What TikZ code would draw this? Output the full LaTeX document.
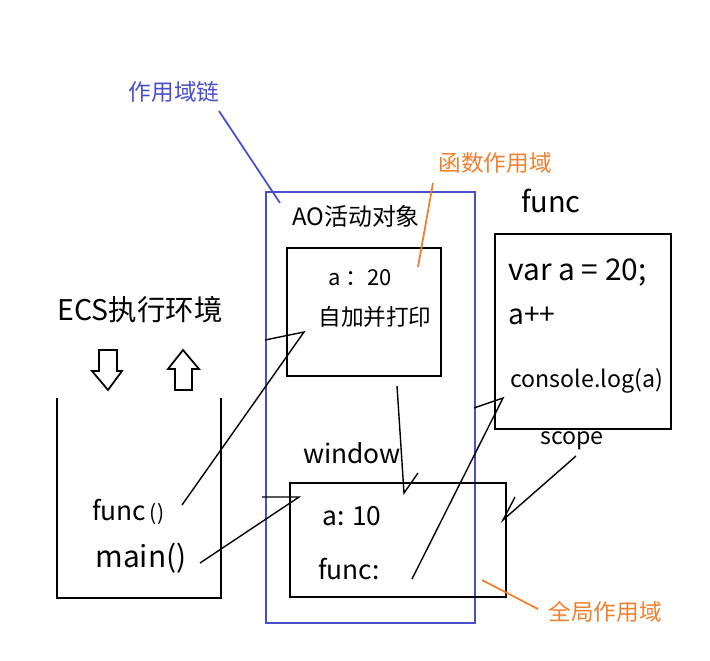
\documentclass[tikz,border=0pt]{standalone}
\usepackage{fontspec}
\setmainfont{Noto Sans CJK SC}
\definecolor{chainblue}{RGB}{72,78,204}
\definecolor{scopeorange}{RGB}{240,128,48}

\begin{document}
\begin{tikzpicture}[x=0.02cm, y=-0.02cm,
        box/.style={draw, line width=1.1pt},
        link/.style={line width=0.8pt},
        txt/.style={inner sep=0pt},
        big/.style={txt, font=\fontsize{15}{18}\selectfont},
        mid/.style={txt, font=\fontsize{12.9}{15}\selectfont},
        small/.style={txt, font=\fontsize{13.2}{15}\selectfont}]
    \useasboundingbox (0,0) rectangle (710,660);

    % boxes
    \draw [draw=chainblue, line width=1.1pt] (266,192) rectangle (475,623);
    \draw [box] (287,248) rectangle (441,376);
    \draw [box] (495,234) rectangle (671,429);
    \draw [box] (290,483) rectangle (506,597);
    \draw [box] (57,398) -- (57,598) -- (221,598) -- (221,398);

    % hollow arrows
    \draw [line width=1pt] (99,350) -- (117,350) -- (117,371) -- (122,371) -- (108,390) -- (92,371) -- (99,371) -- cycle;
    \draw [line width=1pt] (183,350) -- (199,369) -- (192,369) -- (192,390) -- (175,390) -- (175,369) -- (168,369) -- cycle;

    % labels
    \node (ecs) [txt, font=\fontsize{16.2}{19}\selectfont] at (140,310) {ECS执行环境};
    \node (chain) [mid, text=chainblue] at (174,92) {作用域链};
    \node (ao) [txt, font=\fontsize{13.6}{16}\selectfont] at (356,216) {AO活动对象};
    \node (fscope) [mid, text=scopeorange] at (495,163) {函数作用域};
    \node (aval) [txt, font=\fontsize{12.5}{15}\selectfont] at (360,278) {a ：20};
    \node (incr) [mid] at (375,317) {自加并打印};
    \node (fname) [txt, font=\fontsize{16.5}{19}\selectfont] at (551,201) {func};
    \node (vara) [txt, font=\fontsize{17}{20}\selectfont, anchor=west] at (508,272) {var a = 20;};
    \node (aplus) [txt, font=\fontsize{16}{19}\selectfont, anchor=west] at (508,316) {a++};
    \node (clog) [small, anchor=west] at (510,381) {console.log(a)};
    \node (scope) [small] at (572,441) {scope};
    \node (win) [big] at (352,453) {window};
    \node (ga) [big, anchor=west] at (322,516) {a: 10};
    \node (gf) [big, anchor=west] at (318,569) {func:};
    \node (sfunc) [big, anchor=west] at (92,512) {func{\fontsize{12}{14}\selectfont\,()}};
    \node (smain) [txt, font=\fontsize{17}{20}\selectfont, anchor=west] at (95,558) {main()};
    \node (gscope) [mid, text=scopeorange] at (605,612) {全局作用域};

    % pointer ends
    \coordinate (chainend) at (280,203);
    \coordinate (fscopeend) at (418,267);
    \coordinate (gscopeend) at (482,580);
    \coordinate (sfunctail) at (182,505);
    \coordinate (smaintail) at (200,563);
    \coordinate (aotip) at (304,332);
    \coordinate (aobarb) at (265,340);
    \coordinate (wintip) at (299,497);
    \coordinate (winbarb) at (262,497);
    \coordinate (aobot) at (397,386);
    \coordinate (downtip) at (404,493);
    \coordinate (downbarb) at (418,473);
    \coordinate (gftail) at (412,579);
    \coordinate (fbtip) at (503,398);
    \coordinate (fbbarb) at (474,408);
    \coordinate (sctail) at (576,456);
    \coordinate (sctip) at (503,520);
    \coordinate (scbarb) at (515,497);

    % pointers
    \draw [chainblue, line width=1pt] (219,111) -- (chainend);
    \draw [scopeorange, line width=1pt] (433,183) -- (fscopeend);
    \draw [scopeorange, line width=1pt] (gscopeend) -- (538,609);
    \draw [link] (sfunctail) -- (aotip) -- (aobarb);
    \draw [link] (smaintail) -- (wintip) -- (winbarb);
    \draw [link] (aobot) -- (downtip) -- (downbarb);
    \draw [link] (gftail) -- (fbtip) -- (fbbarb);
    \draw [link] (sctail) -- (sctip) -- (scbarb);
\end{tikzpicture}
\end{document}
